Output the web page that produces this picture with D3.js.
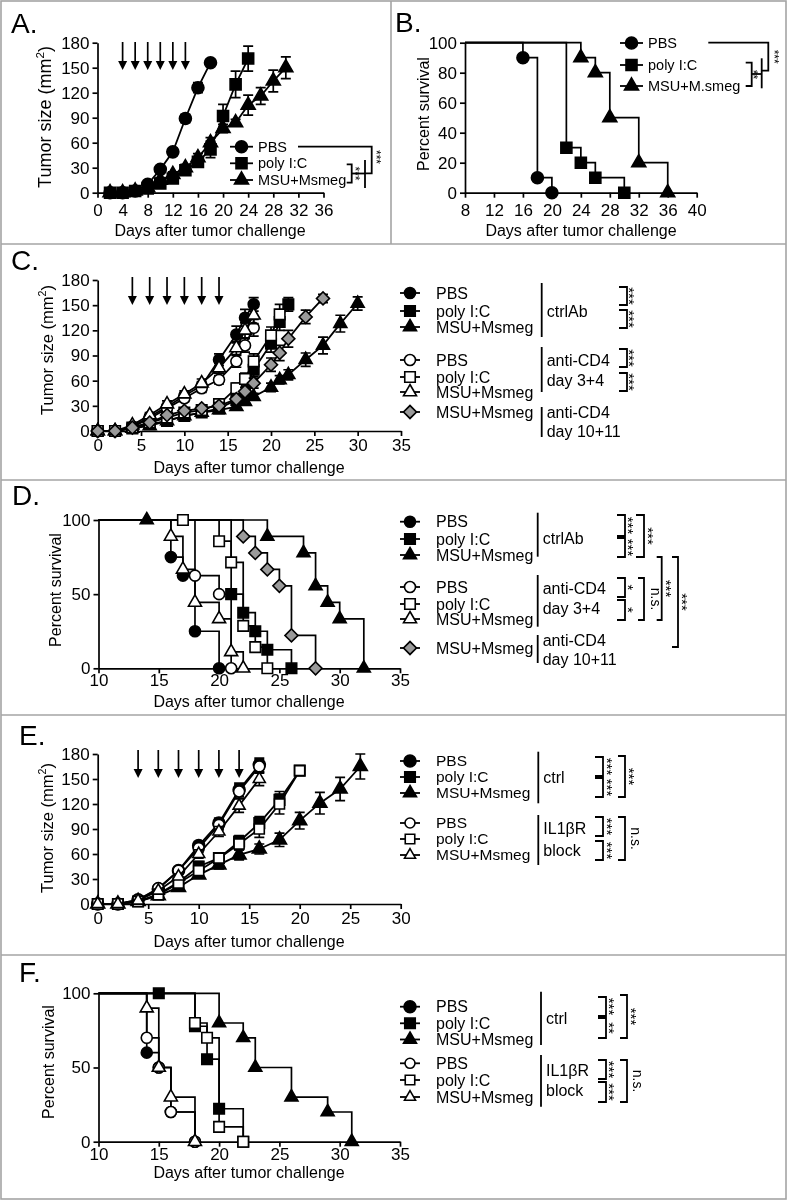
<!DOCTYPE html>
<html>
<head>
<meta charset="utf-8">
<title>Tumor growth and survival</title>
<script src="https://cdn.jsdelivr.net/npm/d3@7/dist/d3.min.js"></script>
<style>
  body { margin: 0; background: #fff; }
  svg { display: block; font-family: "Liberation Sans", Arial, Helvetica, sans-serif; filter: grayscale(100%); }
</style>
</head>
<body>
<svg id="fig" width="788" height="1201"></svg>
<script>
// ---------- data ----------
const groups = ['PBS', 'poly I:C', 'MSU+Msmeg'];
const groupsB = ['PBS', 'poly I:C', 'MSU+M.smeg'];
const dayLabel = 'Days after tumor challenge';

// A. tumor growth
const aTicksX = [0, 4, 8, 12, 16, 20, 24, 28, 32, 36];
const aTicksY = [0, 30, 60, 90, 120, 150, 180];
const aDosing = [4, 6, 8, 10, 12, 14];
const aPbsDays = [2, 4, 6, 8, 10, 12, 14, 16, 18];
const aPbs     = [0, 0, 2, 10, 28, 49, 89, 126, 156];
const aPbsErr  = [0, 0, 1, 2, 3, 4, 5, 6, 3];
const aPolyDays = [2, 4, 6, 8, 10, 12, 14, 16, 18, 20, 22, 24];
const aPoly     = [0, 0, 2, 5, 11, 17, 27, 37, 52, 92, 130, 161];
const aPolyErr  = [0, 0, 1, 1, 2, 3, 4, 6, 10, 14, 16, 15];
const aMsuDays = [2, 4, 6, 8, 10, 12, 14, 16, 18, 20, 22, 24, 26, 28, 30];
const aMsu     = [0, 0, 2, 6, 15, 22, 30, 42, 60, 77, 84, 105, 116, 134, 150];
const aMsuErr  = [0, 0, 1, 2, 3, 3, 4, 5, 6, 5, 4, 12, 10, 13, 13];

// B. survival
const bTicksX = [8, 12, 16, 20, 24, 28, 32, 36, 40];
const bTicksY = [0, 20, 40, 60, 80, 100];
const bPbsT = [16, 18, 20],         bPbsS = [90, 10, 0];
const bPolyT = [22, 24, 26, 30],    bPolyS = [30, 20, 10, 0];
const bMsuT = [24, 26, 28, 32, 36], bMsuS = [90, 80, 50, 20, 0];

// C. tumor growth, CD4 depletion
const cTicksX = [0, 5, 10, 15, 20, 25, 30, 35];
const cTicksY = [0, 30, 60, 90, 120, 150, 180];
const cDosing = [4, 6, 8, 10, 12, 14];
const cPbsDays = [0, 2, 4, 6, 8, 10, 12, 14, 16, 17, 18];
const cPbs     = [0, 0, 5, 17, 29, 42, 54, 85, 115, 135, 151];
const cPbsErr  = [0, 0, 1, 2, 3, 4, 5, 7, 10, 10, 8];
const cPolyDays = [0, 2, 4, 6, 8, 10, 12, 14, 16, 17, 18, 20, 21, 22];
const cPoly     = [0, 0, 3, 8, 12, 18, 22, 27, 37, 47, 73, 104, 130, 151];
const cPolyErr  = [0, 0, 1, 1, 2, 2, 3, 4, 5, 6, 8, 10, 10, 8];
const cMsuDays = [0, 2, 4, 6, 8, 10, 12, 14, 16, 17, 18, 20, 21, 22, 24, 26, 28, 30];
const cMsu     = [0, 0, 3, 6, 12, 18, 22, 25, 29, 35, 41, 52, 61, 67, 85, 102, 128, 152];
const cMsuErr  = [0, 0, 1, 1, 1, 2, 2, 2, 3, 3, 4, 5, 5, 6, 8, 10, 10, 8];
const cPbs4Days = [0, 2, 4, 6, 8, 10, 12, 14, 16, 17, 18];
const cPbs4     = [0, 0, 5, 15, 27, 39, 51, 61, 83, 102, 123];
const cPbs4Err  = [0, 0, 1, 2, 3, 4, 5, 5, 7, 8, 10];
const cPoly4Days = [0, 2, 4, 6, 8, 10, 12, 14, 16, 17, 18, 20, 21];
const cPoly4     = [0, 0, 4, 10, 16, 22, 25, 32, 51, 62, 83, 114, 139];
const cPoly4Err  = [0, 0, 1, 2, 3, 3, 4, 4, 6, 7, 9, 10, 12];
const cMsu4Days = [0, 2, 4, 6, 8, 10, 12, 14, 16, 17, 18];
const cMsu4     = [0, 0, 7, 19, 32, 44, 57, 75, 99, 120, 138];
const cMsu4Err  = [0, 0, 2, 3, 4, 4, 5, 6, 8, 9, 10];
const cMsu10Days = [0, 2, 4, 6, 8, 10, 12, 14, 16, 17, 18, 20, 21, 22, 24, 26];
const cMsu10     = [0, 0, 4, 10, 19, 24, 27, 30, 38, 47, 57, 79, 93, 110, 136, 158];
const cMsu10Err  = [0, 0, 1, 2, 3, 3, 3, 4, 4, 5, 6, 8, 9, 10, 8, 5];

// D. survival, CD4 depletion
const dTicksX = [10, 15, 20, 25, 30, 35];
const dTicksY = [0, 50, 100];
const dPbsT = [16, 17, 18, 20],              dPbsS = [75, 62.5, 25, 0];
const dPolyT = [21, 22, 23, 24, 26],         dPolyS = [50, 37.5, 25, 12.5, 0];
const dMsuT = [14, 24, 27, 28, 29, 30, 32],  dMsuS = [100, 88.9, 77.8, 55.6, 44.4, 33.3, 0];
const dPbs4T = [18, 20, 21],                 dPbs4S = [62.5, 50, 0];
const dPoly4T = [17, 20, 21, 22, 23, 24],    dPoly4S = [100, 85.7, 71.4, 28.6, 14.3, 0];
const dMsu4T = [16, 17, 18, 20, 21, 22],     dMsu4S = [88.9, 66.7, 44.4, 33.3, 11.1, 0];
const dMsu10T = [22, 23, 24, 25, 26, 28],    dMsu10S = [88.9, 77.8, 66.7, 55.6, 22.2, 0];

// E. tumor growth, IL1bR block
const eTicksX = [0, 5, 10, 15, 20, 25, 30];
const eTicksY = [0, 30, 60, 90, 120, 150, 180];
const eDosing = [4, 6, 8, 10, 12, 14];
const ePbsDays = [0, 2, 4, 6, 8, 10, 12, 14, 16];
const ePbs     = [0, 0, 5, 18, 40, 70, 97, 137, 167];
const ePbsErr  = [0, 0, 1, 2, 3, 5, 6, 8, 8];
const ePolyDays = [0, 2, 4, 6, 8, 10, 12, 14, 16, 18, 20];
const ePoly     = [0, 0, 3, 12, 26, 45, 55, 75, 97, 125, 160];
const ePolyErr  = [0, 0, 1, 2, 3, 6, 5, 7, 8, 10, 5];
const eMsuDays = [0, 2, 4, 6, 8, 10, 12, 14, 16, 18, 20, 22, 24, 26];
const eMsu     = [0, 0, 3, 10, 20, 35, 47, 59, 66, 77, 100, 121, 138, 165];
const eMsuErr  = [0, 0, 1, 2, 3, 4, 5, 6, 6, 8, 10, 13, 14, 15];
const ePbsBDays = [0, 2, 4, 6, 8, 10, 12, 14, 16];
const ePbsB     = [0, 0, 5, 19, 40, 67, 95, 135, 165];
const ePbsBErr  = [0, 0, 1, 2, 3, 5, 6, 8, 8];
const ePolyBDays = [0, 2, 4, 6, 8, 10, 12, 14, 16, 18, 20];
const ePolyB     = [0, 0, 3, 11, 25, 40, 55, 72, 90, 120, 160];
const ePolyBErr  = [0, 0, 1, 2, 3, 5, 5, 7, 10, 12, 5];
const eMsuBDays = [0, 2, 4, 6, 8, 10, 12, 14, 16];
const eMsuB     = [0, 0, 4, 16, 33, 60, 87, 118, 150];
const eMsuBErr  = [0, 0, 1, 2, 3, 5, 6, 8, 8];

// F. survival, IL1bR block
const fTicksX = [10, 15, 20, 25, 30, 35];
const fTicksY = [0, 50, 100];
const fPbsT = [14, 15, 16, 18],            fPbsS = [60, 50, 20, 0];
const fPolyT = [15, 18, 19, 20, 22],       fPolyS = [100, 77.8, 55.6, 22.2, 0];
const fMsuT = [20, 22, 23, 26, 29, 31],    fMsuS = [80, 70, 50, 30, 20, 0];
const fPbsBT = [14, 15, 16, 18],           fPbsBS = [70, 50, 20, 0];
const fPolyBT = [18, 19, 20, 22],          fPolyBS = [80, 70, 10, 0];
const fMsuBT = [14, 15, 16, 18],           fMsuBS = [90, 50, 30, 0];

// ---------- drawing ----------
const svg = d3.select('#fig');
const GREY = '#9a9a9a';

// panel frames
svg.append('rect').attr('x', 1).attr('y', 1).attr('width', 785).attr('height', 1198)
  .attr('fill', 'none').attr('stroke', '#a4a4a4').attr('stroke-width', 1.6);
[244, 480, 715, 955].forEach(yy => {
  svg.append('line').attr('x1', 1).attr('x2', 786).attr('y1', yy).attr('y2', yy)
    .attr('stroke', '#a4a4a4').attr('stroke-width', 1.6);
});
svg.append('line').attr('x1', 391).attr('x2', 391).attr('y1', 1).attr('y2', 244)
  .attr('stroke', '#a4a4a4').attr('stroke-width', 1.6);

function panelLetter(txt, x, y) {
  svg.append('text').attr('x', x).attr('y', y).attr('font-size', 28).text(txt);
}

function symbolPath(shape, w) {
  let type = d3.symbolCircle, area = Math.PI * w * w / 4;
  if (shape === 'square') { type = d3.symbolSquare; area = w * w; }
  if (shape === 'triangle') { type = d3.symbolTriangle; area = w * w * Math.sqrt(3) / 4; }
  if (shape === 'diamond') { type = d3.symbolSquare; area = w * w / 2; }
  return d3.symbol().type(type).size(area)();
}

function marker(g, shape, fill, cx, cy, w) {
  g.append('path').attr('d', symbolPath(shape, w))
    .attr('transform', `translate(${cx},${cy})` + (shape === 'diamond' ? ' rotate(45)' : ''))
    .attr('fill', fill).attr('stroke', '#000').attr('stroke-width', 1.6);
}

function styleAxis(sel, fs) {
  sel.attr('font-family', null).attr('font-size', fs);
  sel.selectAll('path,line').attr('stroke', '#000').attr('stroke-width', 1.7);
  sel.selectAll('text').attr('fill', '#000');
}

function axes(g, x, y, p) {
  g.append('g').attr('transform', `translate(0,${y.range()[0]})`)
    .call(d3.axisBottom(x).tickValues(p.xTicks).tickSize(5).tickSizeOuter(0).tickPadding(p.xPad))
    .call(styleAxis, 17);
  g.append('g').attr('transform', `translate(${x.range()[0]},0)`)
    .call(d3.axisLeft(y).tickValues(p.yTicks).tickSize(5).tickSizeOuter(0).tickPadding(3))
    .call(styleAxis, 17);
}

function xTitle(cx, cy) {
  svg.append('text').attr('x', cx).attr('y', cy).attr('dy', '0.35em')
    .attr('text-anchor', 'middle').attr('font-size', 16).text(dayLabel);
}

function yTitle(cx, cy, fs, tumor) {
  const t = svg.append('text').attr('transform', `translate(${cx},${cy}) rotate(-90)`)
    .attr('dy', '0.35em').attr('text-anchor', 'middle').attr('font-size', fs);
  if (tumor) {
    t.append('tspan').text('Tumor size (mm');
    t.append('tspan').attr('font-size', fs * 0.65).attr('dy', -fs * 0.4).text('2');
    t.append('tspan').attr('dy', fs * 0.4).text(')');
  } else {
    t.text('Percent survival');
  }
}

function dosingArrows(g, x, days, y1, y2) {
  days.forEach(d => {
    const xx = x(d);
    g.append('line').attr('x1', xx).attr('x2', xx).attr('y1', y1).attr('y2', y2 - 6)
      .attr('stroke', '#000').attr('stroke-width', 1.7);
    g.append('path').attr('d', `M${xx - 4.5},${y2 - 9}L${xx + 4.5},${y2 - 9}L${xx},${y2}Z`).attr('fill', '#000');
  });
}

function growthPanel(p) {
  const g = svg.append('g');
  const x = d3.scaleLinear().domain(p.xDomain).range(p.xRange);
  const y = d3.scaleLinear().domain(p.yDomain).range(p.yRange);
  axes(g, x, y, p);
  dosingArrows(g, x, p.dosing, p.arrowY[0], p.arrowY[1]);
  const line = d3.line().x(d => x(d[0])).y(d => y(d[1]));
  p.series.forEach(s => {
    const pts = s.days.map((d, i) => [d, s.vals[i], s.errs[i]]);
    const sg = g.append('g');
    pts.filter(d => d[2] > 0).forEach(d => {
      const xx = x(d[0]), y1 = y(d[1] - d[2]), y2 = y(d[1] + d[2]);
      sg.append('path').attr('d', `M${xx},${y1}V${y2}M${xx - 5},${y1}H${xx + 5}M${xx - 5},${y2}H${xx + 5}`)
        .attr('stroke', '#000').attr('stroke-width', 1.7).attr('fill', 'none');
    });
    sg.append('path').datum(pts).attr('d', line)
      .attr('fill', 'none').attr('stroke', '#000').attr('stroke-width', 1.8);
    pts.forEach(d => marker(sg, s.shape, s.fill, x(d[0]), y(d[1]), s.w || p.w));
  });
}

function survivalPanel(p) {
  const g = svg.append('g');
  const x = d3.scaleLinear().domain(p.xDomain).range(p.xRange);
  const y = d3.scaleLinear().domain(p.yDomain).range(p.yRange);
  axes(g, x, y, p);
  const step = d3.line().curve(d3.curveStepAfter).x(d => x(d[0])).y(d => y(d[1]));
  p.series.forEach(s => {
    const pts = [[p.xDomain[0], 100]].concat(s.t.map((t, i) => [t, s.s[i]]));
    g.append('path').datum(pts).attr('d', step)
      .attr('fill', 'none').attr('stroke', '#000').attr('stroke-width', 1.7);
  });
  p.series.forEach(s => {
    s.t.forEach((t, i) => marker(g, s.shape, s.fill, x(t), y(s.s[i]), s.w || p.w));
  });
}

// legends and significance annotations
function legendRow(x1, x2, tx, cy, shape, fill, w, label, fs) {
  svg.append('line').attr('x1', x1).attr('x2', x2).attr('y1', cy).attr('y2', cy)
    .attr('stroke', '#000').attr('stroke-width', 1.8);
  marker(svg, shape, fill, (x1 + x2) / 2, cy, w);
  svg.append('text').attr('x', tx).attr('y', cy).attr('dy', '0.35em').attr('font-size', fs).text(label);
}

function groupBar(x, y1, y2, lines, ly) {
  svg.append('line').attr('x1', x).attr('x2', x).attr('y1', y1).attr('y2', y2)
    .attr('stroke', '#000').attr('stroke-width', 1.8);
  lines.forEach((t, i) => {
    svg.append('text').attr('x', x + 5).attr('y', ly[i]).attr('dy', '0.35em').attr('font-size', 16).text(t);
  });
}

function bracket(x, y1, y2, tick) {
  svg.append('path').attr('d', `M${x - tick},${y1}H${x}V${y2}H${x - tick}`)
    .attr('fill', 'none').attr('stroke', '#000').attr('stroke-width', 1.8);
}

function sig(x, cy, txt, fs) {
  const isStar = txt.indexOf('*') >= 0;
  svg.append('text').attr('transform', `translate(${x},${cy}) rotate(90)`)
    .attr('text-anchor', 'middle').attr('dy', isStar ? '0.62em' : '0.28em')
    .attr('font-size', fs || (isStar ? 15 : 14)).attr('fill', '#000').text(txt);
}

function pathLine(d) {
  svg.append('path').attr('d', d).attr('fill', 'none').attr('stroke', '#000').attr('stroke-width', 1.8);
}

// ----- Panel A -----
panelLetter('A.', 11, 33);
growthPanel({
  xDomain: [0, 36], xRange: [97.5, 323.5], yDomain: [0, 180], yRange: [192.7, 42.7],
  xTicks: aTicksX, yTicks: aTicksY, xPad: 6, dosing: aDosing, arrowY: [42, 70], w: 12,
  series: [
    { days: aPbsDays, vals: aPbs, errs: aPbsErr, shape: 'circle', fill: '#000' },
    { days: aPolyDays, vals: aPoly, errs: aPolyErr, shape: 'square', fill: '#000', w: 11 },
    { days: aMsuDays, vals: aMsu, errs: aMsuErr, shape: 'triangle', fill: '#000', w: 14 }
  ]
});
yTitle(45, 117, 18, true);
xTitle(210, 230);
legendRow(230, 253, 258, 146.7, 'circle', '#000', 12, groups[0], 14.5);
legendRow(230, 253, 258, 163.3, 'square', '#000', 11, groups[1], 14.5);
legendRow(230, 253, 258, 180, 'triangle', '#000', 14, groups[2], 14.5);
pathLine('M298,146.7H371.7V173.3H365');
pathLine('M365,160V188');
bracket(351.7, 164.3, 182.7, 5);
pathLine('M351.7,173.5H365');
sig(358.3, 173.5, '***', 12);
sig(379, 157, '***', 12);

// ----- Panel B -----
panelLetter('B.', 395, 32);
survivalPanel({
  xDomain: [8, 40], xRange: [465, 696.7], yDomain: [0, 100], yRange: [192.7, 42.7],
  xTicks: bTicksX, yTicks: bTicksY, xPad: 6, w: 12,
  series: [
    { t: bPbsT, s: bPbsS, shape: 'circle', fill: '#000' },
    { t: bPolyT, s: bPolyS, shape: 'square', fill: '#000', w: 11 },
    { t: bMsuT, s: bMsuS, shape: 'triangle', fill: '#000', w: 14 }
  ]
});
yTitle(423, 114, 16, false);
xTitle(581, 230);
legendRow(620, 643, 648, 43, 'circle', '#000', 12, groupsB[0], 14.5);
legendRow(620, 643, 648, 65, 'square', '#000', 11, groupsB[1], 14.5);
legendRow(620, 643, 648, 86, 'triangle', '#000', 14, groupsB[2], 14.5);
pathLine('M708.3,42.7H768.3V70.7H761.7');
pathLine('M761.7,58.3V88.3');
bracket(751.7, 62.7, 86, 6);
pathLine('M751.7,74H761.7');
sig(756.7, 74.5, '**', 12);
sig(777, 56.7, '***', 12);

// ----- Panel C -----
panelLetter('C.', 11, 270);
growthPanel({
  xDomain: [0, 35], xRange: [97.7, 401], yDomain: [0, 180], yRange: [431, 280],
  xTicks: cTicksX, yTicks: cTicksY, xPad: 3, dosing: cDosing, arrowY: [277, 305], w: 11,
  series: [
    { days: cMsuDays, vals: cMsu, errs: cMsuErr, shape: 'triangle', fill: '#000', w: 13 },
    { days: cPolyDays, vals: cPoly, errs: cPolyErr, shape: 'square', fill: '#000', w: 10.5 },
    { days: cPbsDays, vals: cPbs, errs: cPbsErr, shape: 'circle', fill: '#000' },
    { days: cPbs4Days, vals: cPbs4, errs: cPbs4Err, shape: 'circle', fill: '#fff' },
    { days: cPoly4Days, vals: cPoly4, errs: cPoly4Err, shape: 'square', fill: '#fff', w: 10.5 },
    { days: cMsu4Days, vals: cMsu4, errs: cMsu4Err, shape: 'triangle', fill: '#fff', w: 13 },
    { days: cMsu10Days, vals: cMsu10, errs: cMsu10Err, shape: 'diamond', fill: GREY, w: 13 }
  ]
});
yTitle(47, 350, 16.5, true);
xTitle(249, 467);
legendRow(400, 420, 436, 293, 'circle', '#000', 11, groups[0], 16);
legendRow(400, 420, 436, 311, 'square', '#000', 10.5, groups[1], 16);
legendRow(400, 420, 436, 327, 'triangle', '#000', 13, groups[2], 16);
legendRow(400, 420, 436, 360, 'circle', '#fff', 11, groups[0], 16);
legendRow(400, 420, 436, 377, 'square', '#fff', 10.5, groups[1], 16);
legendRow(400, 420, 436, 392, 'triangle', '#fff', 13, groups[2], 16);
legendRow(400, 420, 436, 412, 'diamond', GREY, 13, groups[2], 16);
groupBar(541.7, 283, 337, ['ctrlAb'], [311]);
groupBar(541.7, 347, 392, ['anti-CD4', 'day 3+4'], [360, 380]);
groupBar(541.7, 407, 437, ['anti-CD4', 'day 10+11'], [412, 431]);
bracket(627, 287, 305, 8); sig(633, 296, '***');
bracket(627, 310, 328, 8); sig(633, 319, '***');
bracket(627, 349, 367, 8); sig(633, 358, '***');
bracket(627, 373, 391, 8); sig(633, 382, '***');

// ----- Panel D -----
panelLetter('D.', 12, 505);
survivalPanel({
  xDomain: [10, 35], xRange: [98.5, 400], yDomain: [0, 100], yRange: [668.3, 520],
  xTicks: dTicksX, yTicks: dTicksY, xPad: 1, w: 11,
  series: [
    { t: dPbsT, s: dPbsS, shape: 'circle', fill: '#000' },
    { t: dPolyT, s: dPolyS, shape: 'square', fill: '#000', w: 10.5 },
    { t: dMsuT, s: dMsuS, shape: 'triangle', fill: '#000', w: 13 },
    { t: dPbs4T, s: dPbs4S, shape: 'circle', fill: '#fff' },
    { t: dPoly4T, s: dPoly4S, shape: 'square', fill: '#fff', w: 10.5 },
    { t: dMsu4T, s: dMsu4S, shape: 'triangle', fill: '#fff', w: 13 },
    { t: dMsu10T, s: dMsu10S, shape: 'diamond', fill: GREY, w: 13 }
  ]
});
yTitle(55, 590, 16, false);
xTitle(249, 701);
legendRow(400, 420, 436, 521.7, 'circle', '#000', 11, groups[0], 16);
legendRow(400, 420, 436, 539, 'square', '#000', 10.5, groups[1], 16);
legendRow(400, 420, 436, 555, 'triangle', '#000', 13, groups[2], 16);
legendRow(400, 420, 436, 587, 'circle', '#fff', 11, groups[0], 16);
legendRow(400, 420, 436, 604, 'square', '#fff', 10.5, groups[1], 16);
legendRow(400, 420, 436, 619, 'triangle', '#fff', 13, groups[2], 16);
legendRow(400, 420, 436, 648, 'diamond', GREY, 13, groups[2], 16);
groupBar(537.7, 512.7, 556.7, ['ctrlAb'], [538]);
groupBar(537.7, 575, 626.7, ['anti-CD4', 'day 3+4'], [588, 608]);
groupBar(537.7, 635, 663, ['anti-CD4', 'day 10+11'], [640, 659]);
bracket(625, 515, 536, 8); sig(632, 525.5, '***');
bracket(625, 538, 557, 8); sig(632, 547.5, '***');
bracket(644, 515, 557, 8); sig(652, 536, '***');
bracket(625, 578, 597, 8); sig(632, 587.5, '*');
bracket(625, 600, 620, 8); sig(632, 610, '*');
bracket(644, 578, 620, 6); sig(655, 599, 'n.s.');
bracket(661.7, 557, 620, 5); sig(670, 588.5, '***');
bracket(678, 557, 647, 6); sig(686, 602, '***');

// ----- Panel E -----
panelLetter('E.', 19, 745);
growthPanel({
  xDomain: [0, 30], xRange: [97.7, 400.7], yDomain: [0, 180], yRange: [904, 754],
  xTicks: eTicksX, yTicks: eTicksY, xPad: 3, dosing: eDosing, arrowY: [750, 778], w: 11,
  series: [
    { days: ePbsDays, vals: ePbs, errs: ePbsErr, shape: 'circle', fill: '#000', w: 12 },
    { days: ePolyDays, vals: ePoly, errs: ePolyErr, shape: 'square', fill: '#000', w: 10.5 },
    { days: eMsuDays, vals: eMsu, errs: eMsuErr, shape: 'triangle', fill: '#000', w: 14 },
    { days: ePbsBDays, vals: ePbsB, errs: ePbsBErr, shape: 'circle', fill: '#fff' },
    { days: ePolyBDays, vals: ePolyB, errs: ePolyBErr, shape: 'square', fill: '#fff', w: 10 },
    { days: eMsuBDays, vals: eMsuB, errs: eMsuBErr, shape: 'triangle', fill: '#fff', w: 12 }
  ]
});
yTitle(47, 828, 16.5, true);
xTitle(249, 941);
legendRow(400, 420, 436, 761, 'circle', '#000', 12, groups[0], 15.5);
legendRow(400, 420, 436, 777, 'square', '#000', 10.5, groups[1], 15.5);
legendRow(400, 420, 436, 793, 'triangle', '#000', 13, groups[2], 15.5);
legendRow(400, 420, 436, 823, 'circle', '#fff', 10, groups[0], 15.5);
legendRow(400, 420, 436, 839, 'square', '#fff', 9.5, groups[1], 15.5);
legendRow(400, 420, 436, 855, 'triangle', '#fff', 11, groups[2], 15.5);
groupBar(538.3, 751.7, 803.3, ['ctrl'], [777]);
groupBar(538.3, 815, 865, ['IL1\u03b2R', 'block'], [828, 850]);
bracket(603, 757, 776, 8); sig(611, 766.5, '***');
bracket(603, 778, 797, 8); sig(611, 787.5, '***');
bracket(625, 756, 797, 7); sig(633, 776.5, '***');
bracket(603, 817, 836, 8); sig(611, 826.5, '***');
bracket(603, 841, 860, 8); sig(611, 850.5, '***');
bracket(625, 817, 860, 7); sig(635, 838.5, 'n.s.');

// ----- Panel F -----
panelLetter('F.', 19, 982);
survivalPanel({
  xDomain: [10, 35], xRange: [98.5, 400], yDomain: [0, 100], yRange: [1141.7, 993.3],
  xTicks: fTicksX, yTicks: fTicksY, xPad: 1, w: 11,
  series: [
    { t: fPbsT, s: fPbsS, shape: 'circle', fill: '#000' },
    { t: fPolyT, s: fPolyS, shape: 'square', fill: '#000', w: 10.5 },
    { t: fMsuT, s: fMsuS, shape: 'triangle', fill: '#000', w: 13 },
    { t: fPbsBT, s: fPbsBS, shape: 'circle', fill: '#fff' },
    { t: fPolyBT, s: fPolyBS, shape: 'square', fill: '#fff', w: 10.5 },
    { t: fMsuBT, s: fMsuBS, shape: 'triangle', fill: '#fff', w: 13 }
  ]
});
yTitle(48, 1062, 16, false);
xTitle(249, 1172);
legendRow(400, 420, 436, 1006.7, 'circle', '#000', 12, groups[0], 16);
legendRow(400, 420, 436, 1023.3, 'square', '#000', 10.5, groups[1], 16);
legendRow(400, 420, 436, 1039.5, 'triangle', '#000', 13, groups[2], 16);
legendRow(400, 420, 436, 1063.3, 'circle', '#fff', 10, groups[0], 16);
legendRow(400, 420, 436, 1080, 'square', '#fff', 9.5, groups[1], 16);
legendRow(400, 420, 436, 1097, 'triangle', '#fff', 11, groups[2], 16);
groupBar(541, 991.7, 1045, ['ctrl'], [1018]);
groupBar(541, 1055, 1106.7, ['IL1\u03b2R', 'block'], [1070, 1090]);
bracket(606, 997, 1016, 8); sig(613, 1006.5, '***');
bracket(606, 1018, 1038, 8); sig(613, 1028, '**');
bracket(627, 995, 1038, 7); sig(635, 1016.5, '***');
bracket(606, 1060, 1079, 8); sig(613, 1069.5, '***');
bracket(606, 1082, 1102, 8); sig(613, 1092, '***');
bracket(627, 1060, 1102, 7); sig(637, 1081, 'n.s.');
</script>
</body>
</html>
